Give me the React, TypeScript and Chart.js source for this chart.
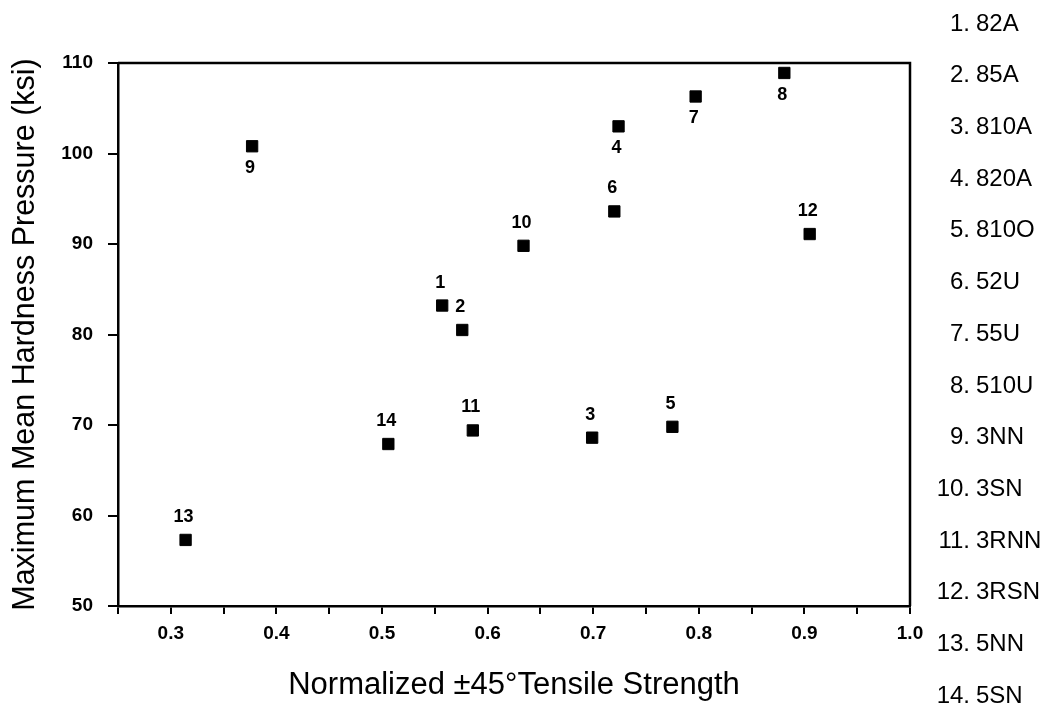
import React, { useEffect, useRef } from 'react';
import { Chart, registerables } from 'chart.js';

Chart.register(...registerables);

// ---- Data ----
const specimenNumbers = ['1', '2', '3', '4', '5', '6', '7', '8', '9', '10', '11', '12', '13', '14'];
const specimenNames = ['82A', '85A', '810A', '820A', '810O', '52U', '55U', '510U', '3NN', '3SN', '3RNN', '3RSN', '5NN', '5SN'];
const tensileStrength = [0.557, 0.576, 0.699, 0.724, 0.775, 0.72, 0.797, 0.881, 0.377, 0.634, 0.586, 0.905, 0.314, 0.506];
const hardnessPressure = [83.2, 80.5, 68.6, 103.0, 69.8, 93.6, 106.3, 108.9, 100.8, 89.8, 69.4, 91.1, 57.3, 67.9];
const labelBelow = [false, false, false, true, false, false, true, true, true, false, false, false, false, false];

const xTitle = 'Normalized \u00B145\u00B0Tensile Strength';
const yTitle = 'Maximum Mean Hardness Pressure (ksi)';

const FONT = '"Liberation Sans", Arial, Helvetica, sans-serif';

const pointLabelPlugin = {
  id: 'pointLabels',
  afterDatasetsDraw(chart: any) {
    const ctx = chart.ctx;
    const meta = chart.getDatasetMeta(0);
    ctx.save();
    ctx.fillStyle = '#000';
    ctx.font = `bold 18px ${FONT}`;
    ctx.textAlign = 'center';
    ctx.textBaseline = 'middle';
    meta.data.forEach((pt: any, i: number) => {
      const dy = labelBelow[i] ? 22 : -23;
      ctx.fillText(specimenNumbers[i], pt.x - 2, pt.y + dy);
    });
    ctx.restore();
  },
};

const framePlugin = {
  id: 'frame',
  afterDraw(chart: any) {
    const { ctx, chartArea } = chart;
    ctx.save();
    ctx.strokeStyle = '#000';
    ctx.lineWidth = 2.5;
    ctx.beginPath();
    ctx.moveTo(chartArea.left, chartArea.top);
    ctx.lineTo(chartArea.right, chartArea.top);
    ctx.lineTo(chartArea.right, chartArea.bottom);
    ctx.stroke();
    ctx.restore();
  },
};

const legendPlugin = {
  id: 'sideLegend',
  afterDraw(chart: any) {
    const ctx = chart.ctx;
    ctx.save();
    ctx.fillStyle = '#000';
    ctx.font = `24px ${FONT}`;
    ctx.textBaseline = 'middle';
    specimenNames.forEach((name, i) => {
      const y = 24 + i * 51.7;
      ctx.textAlign = 'right';
      ctx.fillText(specimenNumbers[i] + '.', 970, y);
      ctx.textAlign = 'left';
      ctx.fillText(name, 976, y);
    });
    ctx.restore();
  },
};

export default function App() {
  const canvasRef = useRef<HTMLCanvasElement | null>(null);

  useEffect(() => {
    if (!canvasRef.current) return;
    const chart = new Chart(canvasRef.current, {
      type: 'scatter',
      data: {
        datasets: [
          {
            data: tensileStrength.map((x, i) => ({ x, y: hardnessPressure[i] })),
            pointStyle: 'rect',
            pointRadius: 8,
            pointHoverRadius: 8,
            backgroundColor: '#000',
            borderColor: '#000',
            borderWidth: 1,
          },
        ],
      },
      options: {
        animation: false,
        responsive: false,
        layout: { padding: { top: 63, right: 134, left: 0, bottom: 0 } },
        plugins: {
          legend: { display: false },
          tooltip: { enabled: false },
        },
        scales: {
          x: {
            type: 'linear',
            min: 0.25,
            max: 1.0,
            afterFit: (scale: any) => {
              scale.height = 105;
            },
            border: { display: true, color: '#000', width: 2.5 },
            grid: {
              display: true,
              drawOnChartArea: false,
              drawTicks: true,
              tickLength: 8,
              color: '#000',
              lineWidth: 2,
            },
            ticks: {
              stepSize: 0.05,
              autoSkip: false,
              maxRotation: 0,
              color: '#000',
              padding: 8,
              font: { family: FONT, size: 19, weight: 'bold' },
              callback: (value: any) => {
                const v = Number(value);
                const r = Math.round(v * 10) / 10;
                if (Math.abs(v - r) < 1e-6 && r >= 0.3) return r.toFixed(1);
                return '';
              },
            },
            title: {
              display: true,
              text: xTitle,
              color: '#000',
              font: { family: FONT, size: 31 },
              padding: { top: 0, bottom: 7 },
            },
          },
          y: {
            type: 'linear',
            min: 50,
            max: 110,
            afterFit: (scale: any) => {
              scale.width = 118;
            },
            border: { display: true, color: '#000', width: 2.5 },
            grid: {
              display: true,
              drawOnChartArea: false,
              drawTicks: true,
              tickLength: 10,
              color: '#000',
              lineWidth: 2,
            },
            ticks: {
              stepSize: 10,
              color: '#000',
              padding: 15,
              font: { family: FONT, size: 19, weight: 'bold' },
            },
            title: {
              display: true,
              text: yTitle,
              color: '#000',
              font: { family: FONT, size: 30.5 },
              padding: { top: 7, bottom: 0 },
            },
          },
        },
      },
      plugins: [pointLabelPlugin, framePlugin, legendPlugin],
    });
    return () => chart.destroy();
  }, []);

  return (
    <div style={{ position: 'fixed', left: 0, top: 0, width: 1044, height: 711, background: '#fff' }}>
      <canvas ref={canvasRef} width={1044} height={711} style={{ display: 'block' }} />
    </div>
  );
}
